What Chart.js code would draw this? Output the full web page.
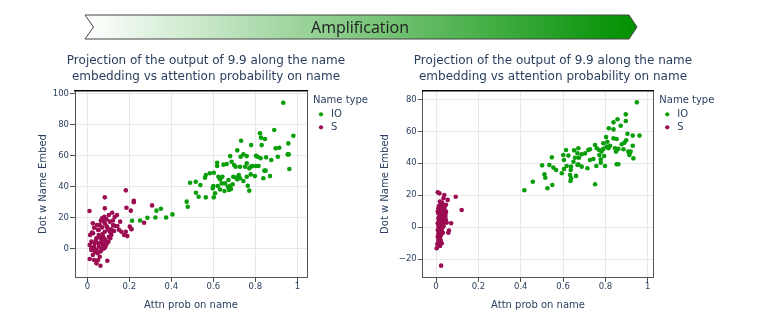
<!DOCTYPE html>
<html><head><meta charset="utf-8">
<script src="https://cdn.jsdelivr.net/npm/chart.js@4.4.1/dist/chart.umd.min.js"></script>
<style>
html,body{margin:0;padding:0;background:#fff;}
#wrap{position:relative;width:757px;height:334px;overflow:hidden;background:#fff;}
canvas{position:absolute;top:0;}
#c1{left:0px;}
#c2{left:360px;}
#banner{position:absolute;left:0;top:0;}
</style></head>
<body><div id="wrap">
<canvas id="c1" width="380" height="334"></canvas>
<canvas id="c2" width="390" height="334"></canvas>
<svg id="banner" width="757" height="50">
<defs><linearGradient id="g" x1="85" x2="637" y1="0" y2="0" gradientUnits="userSpaceOnUse"><stop offset="0" stop-color="#ffffff"/><stop offset="1" stop-color="#009000"/></linearGradient></defs>
<polygon points="85,15 629,15 637,27 629,39 85,39 93.5,27" fill="url(#g)" stroke="#444" stroke-width="1"/>
<text x="360" y="27" dominant-baseline="central" text-anchor="middle" font-family="Open Sans" font-size="16" fill="#222">Amplification</text>
</svg>
</div>
<script>
// ---- data ----
const nameTypes = ['IO', 'S'];
const titleLines = ['Projection of the output of 9.9 along the name', 'embedding vs attention probability on name'];
const xTitle = 'Attn prob on name';
const yTitle = 'Dot w Name Embed';
const legendTitle = 'Name type';

const xTicks = [0, 0.2, 0.4, 0.6, 0.8, 1];
const xTickLabels = ['0', '0.2', '0.4', '0.6', '0.8', '1'];
const leftYTicks = [0, 20, 40, 60, 80, 100];
const leftYTickLabels = ['0', '20', '40', '60', '80', '100'];
const rightYTicks = [-20, 0, 20, 40, 60, 80];
const rightYTickLabels = ['\u221220', '0', '20', '40', '60', '80'];

const leftSX = [0.183,0.083,0.221,0.221,0.010,0.083,0.186,0.207,0.118,0.102,
0.141,0.081,0.070,0.091,0.064,0.076,0.107,0.026,0.046,0.059,
0.083,0.122,0.133,0.143,0.032,0.070,0.095,0.114,0.054,0.083,
0.107,0.127,0.162,0.183,0.210,0.202,0.175,0.190,0.027,0.013,
0.054,0.075,0.102,0.114,0.043,0.067,0.086,0.109,0.019,0.035,
0.054,0.070,0.083,0.011,0.032,0.054,0.075,0.086,0.019,0.043,
0.067,0.080,0.026,0.048,0.059,0.011,0.032,0.051,0.043,0.062,
0.095,0.019,0.035,0.270,0.308,0.156,0.050,0.072,0.092,0.040,
0.060,0.100,0.122,0.130,0.078,0.062,0.092,0.030,0.072,0.100,
0.022,0.150,0.112,0.080];
const leftSY = [37.4,32.9,30.7,29.7,24.1,25.8,26.2,24.3,23.0,21.5,
21.5,20.4,19.4,18.7,17.8,17.8,17.2,16.1,15.0,15.0,
16.1,15.0,14.4,14.4,13.3,13.5,13.3,12.3,11.8,10.7,
10.7,11.2,10.7,10.7,12.3,14.0,8.6,7.9,9.7,8.6,
8.6,7.5,7.5,8.6,6.5,5.4,5.4,6.5,4.3,3.2,
3.2,3.2,2.6,2.1,1.0,1.0,1.4,1.0,-1.1,-1.1,
-1.1,0.0,-4.3,-3.2,-5.4,-6.9,-7.5,-7.5,-9.7,-11.2,
-8.0,0.0,-2.2,16.5,27.7,17.2,12.0,9.2,14.2,5.0,
7.0,12.0,18.0,20.2,19.0,-2.0,3.0,-0.5,0.5,4.2,
10.2,12.0,10.0,6.0];

const leftIoX = [0.213,0.251,0.286,0.324,0.375,0.405,0.329,0.350,0.210,
0.473,0.478,0.489,0.516,0.538,0.560,0.564,0.583,0.602,0.618,0.618,0.648,0.517,0.530,0.564,0.602,0.608,0.600,0.597,0.621,0.624,0.643,0.632,0.640,0.632,0.656,0.653,0.669,0.675,0.672,0.664,
0.933,0.890,0.822,0.827,0.846,0.981,0.732,0.780,0.830,0.897,
0.914,0.957,0.714,0.743,0.680,0.730,0.759,0.803,0.811,0.851,
0.825,0.907,0.954,0.876,0.687,0.699,0.706,0.727,0.751,0.759,
0.778,0.787,0.803,0.815,0.771,0.843,0.849,0.962,0.695,0.721,
0.727,0.759,0.778,0.798,0.743,0.714,0.708,0.838,0.870,0.764,
0.771,0.692,0.684,0.680,0.959];
const leftIoY = [17.8,18.0,19.7,19.9,19.9,21.9,24.3,25.5,12.5,
30.1,26.8,42.3,43.0,40.8,45.5,47.3,48.4,48.8,55.2,53.1,54.0,35.9,33.3,32.9,32.9,35.5,40.2,38.7,40.2,46.2,46.2,44.5,41.9,38.0,41.9,37.0,39.7,37.6,44.1,54.4,
93.9,76.3,74.2,71.4,70.5,72.6,69.4,66.6,66.6,64.5,
64.9,67.7,63.2,60.6,59.5,59.1,59.5,59.7,59.1,58.7,
58.1,59.1,60.6,57.0,55.9,53.7,52.6,52.6,52.6,54.8,
52.6,53.1,53.1,53.1,51.6,50.1,50.1,51.2,46.2,47.3,
45.2,46.2,47.7,46.6,43.4,44.5,45.6,45.2,46.6,40.4,
37.2,41.3,38.3,40.4,60.6];

const rightSX = [0.008,0.016,0.039,0.035,0.055,0.093,0.121,0.024,0.014,0.011,
0.027,0.019,0.008,0.024,0.047,0.011,0.030,0.019,0.039,0.011,
0.035,0.046,0.014,0.027,0.008,0.024,0.050,0.071,0.011,0.035,
0.019,0.008,0.027,0.061,0.058,0.011,0.024,0.008,0.019,0.014,
0.027,0.003,0.019,0.011,0.035,0.044,0.024,0.047,0.030,0.014,
0.016,0.027,0.039,0.020,0.030,0.015,0.025,0.022,0.032,0.012,
0.040,0.018,0.028,0.006,0.022,0.045,0.033];
const rightSY = [21.9,21.2,20.2,18.1,17.1,19.1,10.8,14.6,13.3,11.9,
12.9,10.8,9.8,9.8,9.8,8.7,8.1,7.1,7.1,5.6,
5.6,4.6,4.2,3.5,2.5,2.5,2.9,2.5,0.8,0.4,
-0.6,-1.7,-1.7,-2.1,-3.4,-4.0,-4.8,-5.9,-6.9,-9.0,
-10.0,-13.1,-11.7,-7.9,1.4,6.7,-24.0,14.1,5.6,-0.6,
-2.7,0.4,3.5,11.5,10.5,6.5,6.0,1.5,-3.5,3.0,
12.0,16.0,15.5,-10.5,-8.5,8.5,13.5];

const rightIoX = [0.948,0.896,0.857,0.838,0.896,0.816,0.838,0.872,0.904,0.929,
0.961,0.898,0.803,0.838,0.809,0.853,0.877,0.890,0.929,0.790,
0.822,0.814,0.845,0.861,0.885,0.908,0.919,0.790,0.770,0.759,
0.751,0.727,0.719,0.672,0.652,0.614,0.601,0.625,0.668,0.688,
0.675,0.604,0.656,0.649,0.672,0.638,0.668,0.688,0.715,0.771,
0.782,0.794,0.778,0.727,0.743,0.778,0.798,0.757,0.853,0.861,
0.932,0.913,0.913,0.547,0.501,0.535,0.554,0.567,0.512,0.516,
0.457,0.417,0.526,0.549,0.604,0.636,0.594,0.633,0.661,0.638,
0.635,0.751,0.617,0.704,0.850,0.806];
const rightIoY = [78.1,70.6,67.5,65.6,66.4,61.9,61.2,63.5,58.5,57.3,
57.3,54.4,56.4,55.6,53.5,55.2,51.9,52.9,51.0,52.5,
51.0,49.4,49.4,49.0,48.8,47.3,47.3,49.0,48.3,49.4,
51.4,48.8,48.3,49.4,48.1,48.3,45.2,44.8,46.2,45.6,
43.5,42.1,43.5,41.0,39.4,37.9,39.0,37.9,36.9,45.2,
47.3,44.6,42.5,42.1,42.7,40.4,38.3,38.3,39.4,39.4,
43.1,45.2,46.2,43.7,38.7,38.9,37.3,35.8,33.1,31.0,
28.5,23.1,24.4,26.4,36.4,35.8,33.8,32.7,32.1,30.6,
28.9,26.9,38.3,46.2,47.3,50.4];

// ---- styling ----
const FONT = 'DejaVu Sans';
const TXT = '#2a3f5f';
const IO_COLOR = '#0a9e0a';
const S_COLOR = '#9c0c52';

function toPts(xs, ys) { return xs.map((x, i) => ({ x: x, y: ys[i] })); }

function legendLabels(chart) {
  // trailing no-break spaces widen the legend box so its title is not clipped
  return Chart.defaults.plugins.legend.labels.generateLabels(chart)
    .map(l => Object.assign(l, { text: l.text + '\u00a0'.repeat(7) }));
}

function makeChart(id, cfg) {
  const ctx = document.getElementById(id);
  return new Chart(ctx, {
    type: 'scatter',
    data: {
      datasets: [
        { label: nameTypes[0], data: toPts(cfg.ioX, cfg.ioY), backgroundColor: IO_COLOR, borderWidth: 0, pointRadius: 2.3, pointHoverRadius: 2.3, order: 1 },
        { label: nameTypes[1], data: toPts(cfg.sX, cfg.sY), backgroundColor: S_COLOR, borderWidth: 0, pointRadius: 2.3, pointHoverRadius: 2.3, order: 0 }
      ]
    },
    options: {
      responsive: false,
      animation: false,
      events: [],
      layout: { padding: { left: cfg.padLeft, right: cfg.W - cfg.layoutRight, top: 0, bottom: 23 } },
      plugins: {
        tooltip: { enabled: false },
        title: {
          display: true, text: titleLines, color: TXT,
          font: { family: FONT, size: 12, weight: 'normal', lineHeight: 16 / 12 },
          padding: { top: 52.7, bottom: 6.3 }
        },
        legend: {
          display: true, position: 'right', align: 'start', fullSize: false, maxWidth: 120,
          title: {
            display: true, text: legendTitle, color: TXT, position: 'start',
            font: { family: FONT, size: 10, lineHeight: 1 },
            padding: { top: 4, bottom: 1.3 }
          },
          labels: {
            usePointStyle: true, pointStyle: 'circle', boxWidth: 10, boxHeight: 3,
            padding: 3, color: TXT, font: { family: FONT, size: 10 },
            generateLabels: legendLabels,
            sort: (a, b) => a.datasetIndex - b.datasetIndex
          }
        }
      },
      scales: {
        x: {
          type: 'linear', position: 'bottom', min: cfg.xMin, max: cfg.xMax,
          afterBuildTicks: s => { s.ticks = xTicks.map(v => ({ value: v })); },
          afterFit: s => { s.height = 34; },
          ticks: {
            callback: v => xTickLabels[xTicks.indexOf(v)], color: TXT,
            font: { family: FONT, size: 8.5 }, padding: 0, maxRotation: 0, autoSkip: false
          },
          grid: { color: '#e8e8e8', lineWidth: 1, tickColor: '#555', tickLength: 5 },
          border: { display: true, color: '#555', width: 1 },
          title: { display: true, text: xTitle, color: TXT, font: { family: FONT, size: 10 }, padding: 0 }
        },
        y: {
          type: 'linear', position: 'left', min: cfg.yMin, max: cfg.yMax,
          afterBuildTicks: s => { s.ticks = cfg.yTicks.map(v => ({ value: v })); },
          afterFit: s => { s.width = cfg.yWidth; },
          ticks: {
            callback: v => cfg.yTickLabels[cfg.yTicks.indexOf(v)], color: TXT,
            font: { family: FONT, size: 8.5 }, padding: 1, autoSkip: false
          },
          grid: { color: '#e8e8e8', lineWidth: 1, tickColor: '#555', tickLength: 5 },
          border: { display: true, color: '#555', width: 1 },
          title: { display: true, text: yTitle, color: TXT, font: { family: FONT, size: 10 }, padding: { top: cfg.yTitlePad, bottom: 0 } }
        },
        x2: {
          type: 'linear', position: 'top', min: 0, max: 1,
          afterFit: s => { s.height = 0; },
          ticks: { display: false }, grid: { display: false, drawTicks: false },
          border: { display: true, color: '#000', width: 1.5 }
        },
        y2: {
          type: 'linear', position: 'right', min: 0, max: 1, weight: 0,
          afterFit: s => { s.width = 6; },
          ticks: { display: false }, grid: { display: false, drawTicks: false },
          border: { display: true, color: '#555', width: 1 }
        },
        y3: {
          type: 'linear', position: 'right', min: 0, max: 1, weight: 3000,
          afterFit: s => {
            const lw = (s.chart.legend && s.chart.legend.width) || 0;
            s.width = Math.max(0, cfg.layoutRight - cfg.targetRight - 6 - lw);
          },
          ticks: { display: false }, grid: { display: false, drawTicks: false },
          border: { display: false }
        }
      }
    }
  });
}

makeChart('c1', {
  W: 380, padLeft: 37, layoutRight: 375, targetRight: 307, yWidth: 38, yTitlePad: 0,
  xMin: -0.059, xMax: 1.046, yMin: -18.5, yMax: 101.5,
  yTicks: leftYTicks, yTickLabels: leftYTickLabels,
  ioX: leftIoX, ioY: leftIoY, sX: leftSX, sY: leftSY
});
makeChart('c2', {
  W: 390, padLeft: 19, layoutRight: 367, targetRight: 293.3, yWidth: 43.7, yTitlePad: 0,
  xMin: -0.063, xMax: 1.026, yMin: -31.1, yMax: 85.2,
  yTicks: rightYTicks, yTickLabels: rightYTickLabels,
  ioX: rightIoX, ioY: rightIoY, sX: rightSX, sY: rightSY
});
</script>
</body></html>
